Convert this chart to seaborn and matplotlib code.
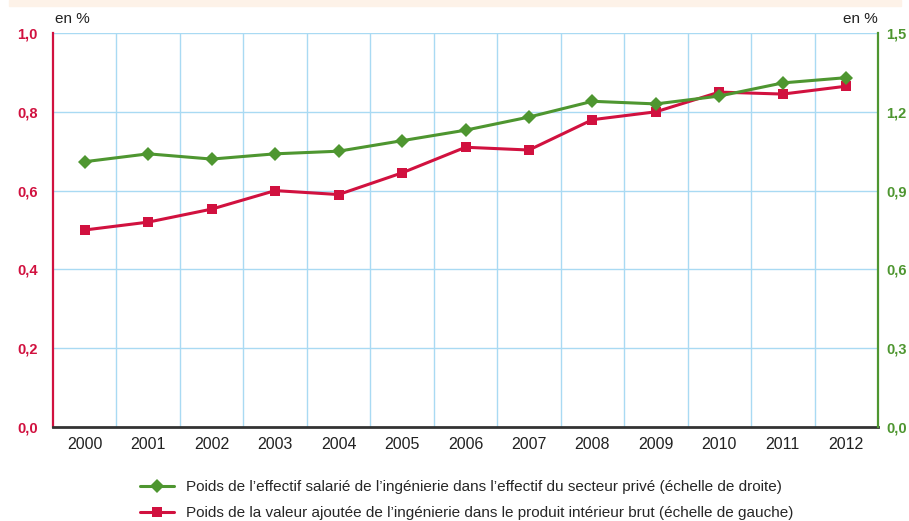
import matplotlib
matplotlib.use("Agg")
import matplotlib.pyplot as plt
import seaborn as sns
import pandas as pd
from matplotlib.patches import Rectangle
from matplotlib.lines import Line2D

years = ["2000", "2001", "2002", "2003", "2004", "2005", "2006",
         "2007", "2008", "2009", "2010", "2011", "2012"]
valeur_ajoutee = [0.50, 0.52, 0.553, 0.60, 0.59, 0.645, 0.71,
                  0.703, 0.78, 0.80, 0.85, 0.845, 0.865]
effectif = [1.01, 1.04, 1.02, 1.04, 1.05, 1.09, 1.13,
            1.18, 1.24, 1.23, 1.26, 1.31, 1.33]
left_ticks = [0.0, 0.2, 0.4, 0.6, 0.8, 1.0]
right_ticks = [0.0, 0.3, 0.6, 0.9, 1.2, 1.5]
label_green = "Poids de l\u2019effectif salarié de l\u2019ingénierie dans l\u2019effectif du secteur privé (échelle de droite)"
label_red = "Poids de la valeur ajoutée de l\u2019ingénierie dans le produit intérieur brut (échelle de gauche)"

RED = "#d1113f"
GREEN = "#4e9630"
GRID = "#a9daf3"

sns.set_theme(style="white")
plt.rcParams["font.family"] = ["Liberation Sans", "DejaVu Sans"]

df = pd.DataFrame({"x": range(len(years)), "va": valeur_ajoutee, "eff": effectif})

fig = plt.figure(figsize=(9.09, 5.21), dpi=100)
fig.patches.append(Rectangle((9 / 909, 1 - 6 / 521), 892 / 909, 6 / 521,
                             transform=fig.transFigure, color="#fdf2e8", zorder=0))
ax = fig.add_axes([53 / 909, 94 / 521, 825 / 909, 394 / 521])
ax2 = ax.twinx()

ax.set_xlim(-0.5, len(years) - 0.5)
ax.set_ylim(0, 1.0)
ax2.set_ylim(0, 1.5)
for b in [i + 0.5 for i in range(len(years) - 1)]:
    ax.axvline(b, color=GRID, lw=1, zorder=0)
for t in left_ticks[1:]:
    ax.axhline(t, color=GRID, lw=1, zorder=0)

sns.lineplot(data=df, x="x", y="va", ax=ax, color=RED, lw=2.2, marker="s",
             markersize=7, markeredgewidth=0, zorder=3)
sns.lineplot(data=df, x="x", y="eff", ax=ax2, color=GREEN, lw=2.2, marker="D",
             markersize=7, markeredgewidth=0, zorder=3)

ax.set_xlim(-0.5, len(years) - 0.5)
ax.set_xticks(range(len(years)))
ax.set_xticklabels(years, fontsize=11.5, color="#222222")
ax.set_yticks(left_ticks)
ax.set_yticklabels([f"{t:.1f}".replace(".", ",") for t in left_ticks],
                   fontsize=10.5, fontweight="bold", color=RED)
ax2.set_yticks(right_ticks)
ax2.set_yticklabels([f"{t:.1f}".replace(".", ",") for t in right_ticks],
                    fontsize=10.5, fontweight="bold", color=GREEN)
ax.set_xlabel("")
ax.set_ylabel("")
ax2.set_ylabel("")
ax.tick_params(axis="x", length=0, pad=7)
ax.tick_params(axis="y", length=0, pad=11)
ax2.tick_params(axis="y", length=0, pad=6)

for a in (ax, ax2):
    a.spines["top"].set_visible(False)
ax.spines["left"].set_color(RED)
ax.spines["left"].set_linewidth(1.6)
ax.spines["right"].set_visible(False)
ax2.spines["left"].set_visible(False)
ax2.spines["bottom"].set_visible(False)
ax2.spines["right"].set_color(GREEN)
ax2.spines["right"].set_linewidth(1.6)
ax.spines["bottom"].set_color("#333333")
ax.spines["bottom"].set_linewidth(2)

fig.text(55 / 909, 1 - 19 / 521, "en %", fontsize=11, color="#222222", va="center")
fig.text(878 / 909, 1 - 19 / 521, "en %", fontsize=11, color="#222222", va="center", ha="right")

handles = [
    Line2D([], [], color=GREEN, lw=2.2, marker="D", markersize=7, markeredgewidth=0),
    Line2D([], [], color=RED, lw=2.2, marker="s", markersize=7, markeredgewidth=0),
]
fig.legend(handles, [label_green, label_red], loc="upper left",
           bbox_to_anchor=(140 / 909, 1 - 480 / 521), frameon=False,
           fontsize=11, handlelength=2.2, handletextpad=0.8, labelspacing=0.8,
           borderaxespad=0, borderpad=0)

fig.savefig("out.png", dpi=100)
